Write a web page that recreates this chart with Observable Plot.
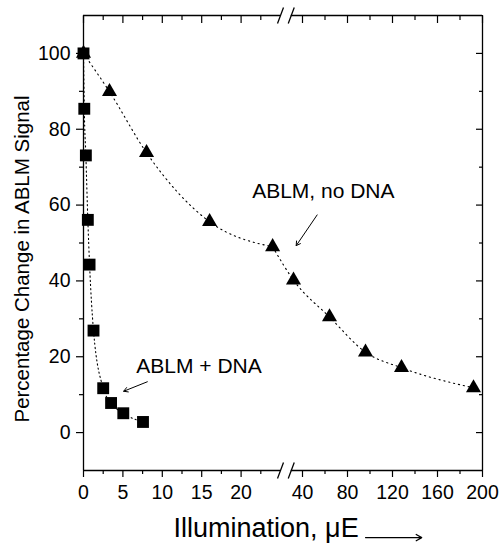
<!DOCTYPE html>
<html><head><meta charset="utf-8">
<script src="https://cdn.jsdelivr.net/npm/d3@7"></script>
<script src="https://cdn.jsdelivr.net/npm/@observablehq/plot@0.6"></script>
<style>
body{margin:0;background:#fff;}
svg{font-family:"Liberation Sans",Arial,Helvetica,sans-serif;}
</style>
</head><body><div id="chart"></div>
<script>
// ---- data ----
const dnaX   = [0, 0.1, 0.3, 0.55, 0.77, 1.27, 2.5, 3.5, 5.05, 7.55];
const dnaY   = [100, 85.4, 73.1, 56.1, 44.3, 26.9, 11.7, 7.8, 5.1, 2.8];
const noDnaX = [0, 3.3, 8, 16, 24, 32, 64, 96, 128, 192];
const noDnaY = [100, 89.9, 73.8, 55.6, 49.0, 40.2, 30.5, 21.2, 17.1, 11.8];

const xTicksLeft  = [0, 5, 10, 15, 20];
const xMinorLeft  = [2.5, 7.5, 12.5, 17.5, 22.5];
const xTicksRight = [40, 80, 120, 160, 200];
const xMinorRight = [60, 100, 140, 180];
const yTicks = [0, 20, 40, 60, 80, 100];
const yMinor = [10, 30, 50, 70, 90];

const xLabel = "Illumination, \u03BCE";
const yLabel = "Percentage Change in ABLM Signal";
const noteText = ["ABLM, no DNA", "ABLM + DNA"];
const noteX = [21.4, 6.7];
const noteY = [63.6, 17.6];
const arrowX1 = [53, 8.1], arrowY1 = [57.4, 13.4];
const arrowX2 = [34.4, 5.1], arrowY2 = [49.3, 10.9];
const labelArrowX = [96, 146], labelArrowY = -27.7;

// ---- broken x axis: [0,25] then [30,200] ----
const segL = [0, 25], segR = [30, 200];
const wL = 197, wGap = 10.75, wR = 191.25;
const uMax = wL + wGap + wR;
function bx(x) {
  return x <= segL[1]
    ? (x - segL[0]) / (segL[1] - segL[0]) * wL
    : wL + wGap + (x - segR[0]) / (segR[1] - segR[0]) * wR;
}

const dna = dnaX.map((x, i) => ({x, y: dnaY[i]}));
const noDna = noDnaX.map((x, i) => ({x, y: noDnaY[i]}));
// the fit is drawn piecewise: left panel, then from the last left point onward
const lastLeft = d3.max(noDnaX.filter(x => x <= segL[1]));
const noDnaA = noDna.filter(d => d.x <= lastLeft);
const noDnaB = noDna.filter(d => d.x >= lastLeft);
const notes = noteText.map((t, i) => ({t, x: noteX[i], y: noteY[i]}));
const arrows = arrowX1.map((x1, i) => ({x1, y1: arrowY1[i], x2: arrowX2[i], y2: arrowY2[i]}));

const xMajor = [...xTicksLeft, ...xTicksRight];
const xMinor = [...xMinorLeft, ...xMinorRight];
const xMajorU = xMajor.map(bx);
const xMinorU = xMinor.map(bx);
const fmt = new Map(xMajor.map(v => [bx(v), String(v)]));

const yMin = -10, yMax = 110;
const frameSegs = [];
for (const y of [yMin, yMax]) {
  frameSegs.push({y, a: segL[0], b: segL[1]});
  frameSegs.push({y, a: segR[0], b: segR[1]});
}
const breakPts = [];
for (const y of [yMin, yMax]) for (const x of [segL[1], segR[0]]) breakPts.push({x, y});
const slash = {draw(ctx) { ctx.moveTo(-3, 8); ctx.lineTo(3, -8); }};

const blank = () => "";
const dotted = {curve: "monotone-x", stroke: "black", strokeWidth: 1.1, strokeDasharray: "1.2,3.8"};
const chart = Plot.plot({
  width: 500, height: 548,
  marginLeft: 83, marginRight: 18, marginTop: 15, marginBottom: 78,
  style: {background: "white", color: "black", overflow: "visible", fontSize: "19px", fontFamily: "'Liberation Sans', Arial, sans-serif"},
  x: {type: "linear", domain: [0, uMax]},
  y: {domain: [yMin, yMax]},
  marks: [
    // frame with break
    Plot.ruleY(frameSegs, {y: "y", x1: d => bx(d.a), x2: d => bx(d.b), stroke: "black", strokeWidth: 1.3}),
    Plot.ruleX([bx(segL[0]), bx(segR[1])], {stroke: "black", strokeWidth: 1.3}),
    Plot.dot(breakPts, {x: d => bx(d.x), y: "y", symbol: slash, r: 3, stroke: "black", fill: "none", strokeWidth: 1.3}),
    // axes
    Plot.axisX(xMajorU, {anchor: "bottom", tickSize: 7, tickPadding: 8, tickFormat: d => fmt.get(d), fontSize: 19.5, label: null, strokeWidth: 1.2}),
    Plot.axisX(xMinorU, {anchor: "bottom", tickSize: 4, tickFormat: blank, label: null, strokeWidth: 1.2}),
    Plot.axisX(xMajorU, {anchor: "top", tickSize: 7, dy: 7, tickFormat: blank, label: null, strokeWidth: 1.2}),
    Plot.axisX(xMinorU, {anchor: "top", tickSize: 4, dy: 4, tickFormat: blank, label: null, strokeWidth: 1.2}),
    Plot.axisY(yTicks, {anchor: "left", tickSize: 7, tickPadding: 6, fontSize: 19.5, label: null, strokeWidth: 1.2}),
    Plot.axisY(yMinor, {anchor: "left", tickSize: 4, tickFormat: blank, label: null, strokeWidth: 1.2}),
    Plot.axisY(yTicks, {anchor: "right", tickSize: 7, dx: -7, tickFormat: blank, label: null, strokeWidth: 1.2}),
    Plot.axisY(yMinor, {anchor: "right", tickSize: 4, dx: -4, tickFormat: blank, label: null, strokeWidth: 1.2}),
    // fit lines
    Plot.line(noDnaA, {x: d => bx(d.x), y: "y", ...dotted}),
    Plot.line(noDnaB, {x: d => bx(d.x), y: "y", ...dotted}),
    Plot.line(dna, {x: d => bx(d.x), y: "y", ...dotted, strokeDasharray: "1.2,3"}),
    // markers
    Plot.dot(noDna, {x: d => bx(d.x), y: "y", symbol: "triangle", r: 5.6, fill: "black", stroke: "none"}),
    Plot.dot(dna, {x: d => bx(d.x), y: "y", symbol: "square", r: 6.7, fill: "black", stroke: "none"}),
    // annotations
    Plot.text(notes, {x: d => bx(d.x), y: "y", text: "t", textAnchor: "start", fontSize: 21, fill: "black"}),
    Plot.arrow(arrows, {x1: d => bx(d.x1), y1: "y1", x2: d => bx(d.x2), y2: "y2", stroke: "black", strokeWidth: 1, headLength: 7}),
    // axis titles
    Plot.text([xLabel], {frameAnchor: "bottom", text: d => d, textAnchor: "start", dx: -109.5, dy: 66.4, fontSize: 27, fill: "black"}),
    Plot.arrow([0], {x1: () => bx(labelArrowX[0]), x2: () => bx(labelArrowX[1]), y1: () => labelArrowY, y2: () => labelArrowY, stroke: "black", strokeWidth: 1.2, headLength: 8}),
    Plot.text([yLabel], {frameAnchor: "left", textAnchor: "middle", rotate: -90, dx: -61, dy: 16, fontSize: 20.5, fill: "black"})
  ]
});
document.getElementById("chart").appendChild(chart);
</script>
</body></html>
